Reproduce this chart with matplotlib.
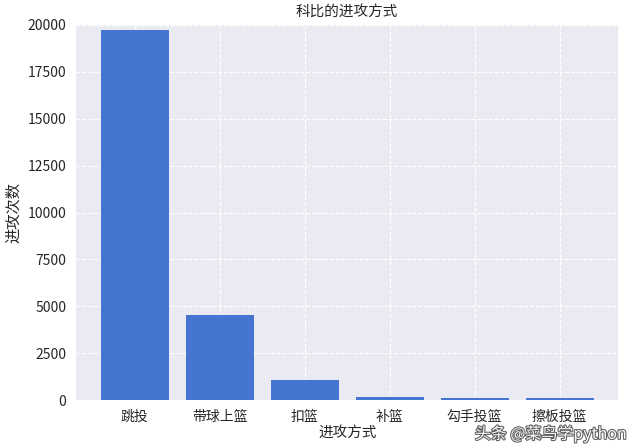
import numpy as np
import matplotlib
matplotlib.use("Agg")
import matplotlib.pyplot as plt
import matplotlib.patheffects as pe
import seaborn as sns

# Kobe shot types and counts
shot_types = ["跳投", "带球上篮", "扣篮", "补篮", "勾手投篮", "擦板投篮"]
shot_counts = [19710, 4532, 1056, 152, 127, 120]

sns.set_style("darkgrid", {"grid.linestyle": "--"})
plt.rcParams['font.family'] = ['Noto Sans CJK SC', 'DejaVu Sans']
plt.rcParams['axes.unicode_minus'] = False

fig = plt.figure(figsize=(6.4, 4.46), dpi=100)
ax = fig.add_axes([0.119, 0.103, 0.847, 0.841])

x = np.arange(len(shot_types))
ax.bar(x, shot_counts, width=0.8, color="#4575d1", linewidth=0)
ax.set_xticks(x)
ax.set_xticklabels(shot_types, fontsize=10)
ax.set_ylim(0, 20000)
ax.set_yticks(np.arange(0, 20001, 2500))
ax.tick_params(axis="y", labelsize=10)
ax.set_title("科比的进攻方式", fontsize=10.5)
ax.set_xlabel("进攻方式", fontsize=10.5, labelpad=2)
ax.set_ylabel("进攻次数", fontsize=11)
for s in ax.spines.values():
    s.set_visible(False)

# watermark, kept just under the tick labels
fig.text(0.98, 0.027, "头条 @菜鸟学python", fontsize=11.5, color="white",
         alpha=0.95, ha="right", va="center",
         path_effects=[pe.withStroke(linewidth=1.5, foreground="#555555")])

fig.savefig("out.png", dpi=100)
